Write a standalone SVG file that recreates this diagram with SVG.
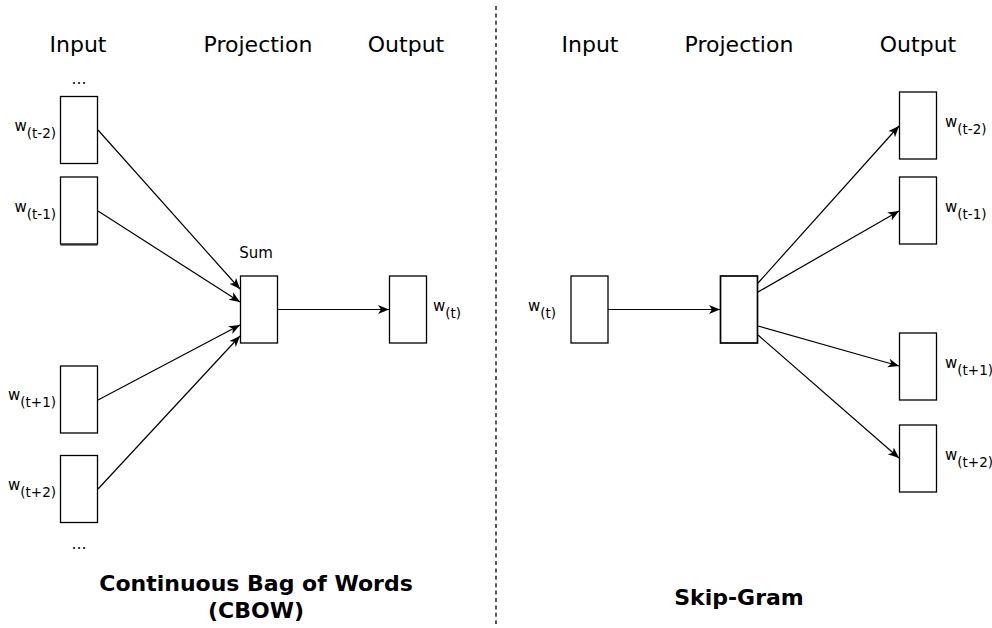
<svg xmlns="http://www.w3.org/2000/svg" width="992" height="628" viewBox="0 0 992 628">
  <style>
    .box { fill: #ffffff; stroke: #000000; stroke-width: 1.3; }
    .edge { fill: none; stroke: #000000; stroke-width: 1.2; }
    .head { font-family: "DejaVu Sans", Verdana, sans-serif; font-size: 22px; fill: #000; text-anchor: middle; }
    .lbl { font-family: "DejaVu Sans", Verdana, sans-serif; font-size: 15px; fill: #000; }
    .sub { font-size: 13.5px; }
    .title { font-family: "DejaVu Sans", Verdana, sans-serif; font-size: 22px; font-weight: bold; fill: #000; text-anchor: middle; }
  </style>
  <defs>
    <marker id="arrow" markerUnits="userSpaceOnUse" markerWidth="14" markerHeight="12" refX="11" refY="4.5" orient="auto">
      <path d="M0,0 L11,4.5 L0,9 L3,4.5 z" fill="#000"/>
    </marker>
  </defs>
  <rect width="992" height="628" fill="#ffffff"/>

  <!-- divider between the two models -->
  <line x1="496" y1="6" x2="496" y2="624" stroke="#000" stroke-width="1.3" stroke-dasharray="4 3.4"/>

  <!-- column headings -->
  <g id="headings">
    <text class="head" x="78" y="52">Input</text>
    <text class="head" x="258" y="52">Projection</text>
    <text class="head" x="406" y="52">Output</text>
    <text class="head" x="590" y="52">Input</text>
    <text class="head" x="739" y="52">Projection</text>
    <text class="head" x="918" y="52">Output</text>
  </g>

  <!-- CBOW: context words -->
  <text class="lbl" x="79" y="84" text-anchor="middle">…</text>
  <g id="cbow-in-t-2">
    <rect class="box" x="60.5" y="96.5" width="37" height="67"/>
    <text class="lbl" x="56" y="131" text-anchor="end">w<tspan class="sub" dy="7">(t-2)</tspan></text>
  </g>
  <g id="cbow-in-t-1">
    <rect class="box" x="60.5" y="177" width="37" height="67"/>
    <line x1="60.5" y1="245" x2="97.5" y2="245" stroke="#000" stroke-width="1"/>
    <text class="lbl" x="56" y="212" text-anchor="end">w<tspan class="sub" dy="7">(t-1)</tspan></text>
  </g>
  <g id="cbow-in-t1">
    <rect class="box" x="60.5" y="366" width="37" height="67"/>
    <text class="lbl" x="56" y="400" text-anchor="end">w<tspan class="sub" dy="7">(t+1)</tspan></text>
  </g>
  <g id="cbow-in-t2">
    <rect class="box" x="60.5" y="455.5" width="37" height="67"/>
    <text class="lbl" x="56" y="490" text-anchor="end">w<tspan class="sub" dy="7">(t+2)</tspan></text>
  </g>
  <text class="lbl" x="79" y="549" text-anchor="middle">…</text>

  <!-- CBOW: projection (sum) and output -->
  <g id="cbow-sum">
    <text class="lbl" x="256" y="258" text-anchor="middle">Sum</text>
    <rect class="box" x="240.5" y="276" width="37" height="67"/>
  </g>
  <g id="cbow-out">
    <rect class="box" x="389.5" y="276" width="37" height="67"/>
    <text class="lbl" x="433" y="311">w<tspan class="sub" dy="7">(t)</tspan></text>
  </g>

  <!-- Skip-Gram: input and projection -->
  <g id="sg-in">
    <rect class="box" x="571" y="276" width="37" height="67"/>
    <text class="lbl" x="556" y="311" text-anchor="end">w<tspan class="sub" dy="7">(t)</tspan></text>
  </g>
  <g id="sg-proj">
    <rect class="box" x="720.5" y="276" width="37" height="67" style="stroke-width:1.7"/>
  </g>

  <!-- Skip-Gram: context outputs -->
  <g id="sg-out-t-2">
    <rect class="box" x="899.5" y="92" width="37" height="67"/>
    <text class="lbl" x="945" y="127">w<tspan class="sub" dy="7">(t-2)</tspan></text>
  </g>
  <g id="sg-out-t-1">
    <rect class="box" x="899.5" y="177" width="37" height="67"/>
    <text class="lbl" x="945" y="212">w<tspan class="sub" dy="7">(t-1)</tspan></text>
  </g>
  <g id="sg-out-t1">
    <rect class="box" x="899.5" y="333" width="37" height="67"/>
    <text class="lbl" x="945" y="368">w<tspan class="sub" dy="7">(t+1)</tspan></text>
  </g>
  <g id="sg-out-t2">
    <rect class="box" x="899.5" y="425" width="37" height="67"/>
    <text class="lbl" x="945" y="460">w<tspan class="sub" dy="7">(t+2)</tspan></text>
  </g>

  <!-- connectors -->
  <g id="connectors">
    <line class="edge" x1="98" y1="130" x2="240" y2="289" marker-end="url(#arrow)"/>
    <line class="edge" x1="98" y1="211" x2="240" y2="302" marker-end="url(#arrow)"/>
    <line class="edge" x1="98" y1="400" x2="240" y2="325" marker-end="url(#arrow)"/>
    <line class="edge" x1="98" y1="489" x2="240" y2="336" marker-end="url(#arrow)"/>
    <line class="edge" x1="278" y1="309.5" x2="389" y2="309.5" marker-end="url(#arrow)"/>

    <line class="edge" x1="608" y1="309.5" x2="720" y2="309.5" marker-end="url(#arrow)"/>
    <line class="edge" x1="758" y1="283" x2="899" y2="126" marker-end="url(#arrow)"/>
    <line class="edge" x1="758" y1="292" x2="899" y2="211" marker-end="url(#arrow)"/>
    <line class="edge" x1="758" y1="326" x2="899" y2="366" marker-end="url(#arrow)"/>
    <line class="edge" x1="758" y1="335" x2="899" y2="458" marker-end="url(#arrow)"/>
  </g>

  <!-- model names -->
  <text class="title" x="256" y="591">Continuous Bag of Words</text>
  <text class="title" x="256" y="618">(CBOW)</text>
  <text class="title" x="739" y="605">Skip-Gram</text>
</svg>
